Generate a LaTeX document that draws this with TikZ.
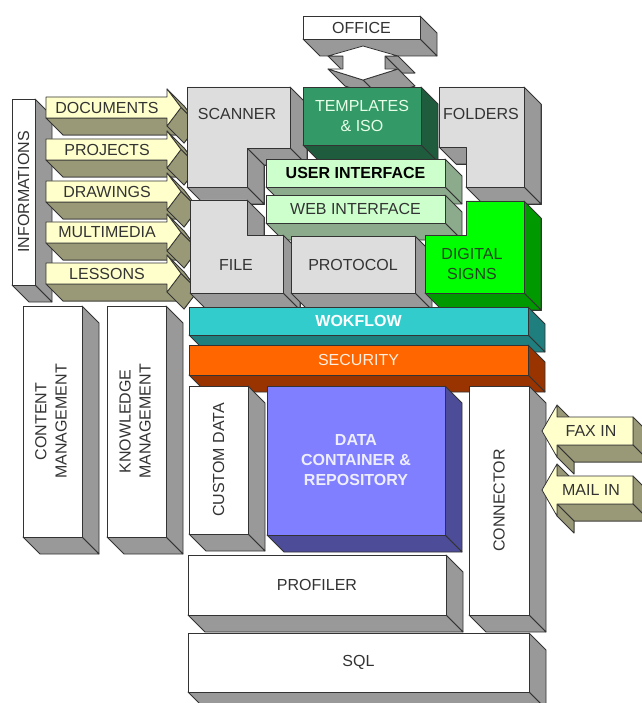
\documentclass[tikz,border=0pt]{standalone}
\usepackage{fontspec}
\usepackage{graphicx}
\setmainfont{Liberation Sans}
\definecolor{edgec}{HTML}{333333}
\definecolor{txt}{HTML}{333333}
\definecolor{lgray}{HTML}{DDDDDD}
\definecolor{sideg}{HTML}{999999}
\definecolor{olive}{HTML}{999977}
\definecolor{ylw}{HTML}{FFFFCC}
\definecolor{tgreen}{HTML}{339966}
\definecolor{tgreenD}{HTML}{1F5C3D}
\definecolor{tlight}{HTML}{E8FFE8}
\definecolor{uig}{HTML}{CCFFCC}
\definecolor{uigD}{HTML}{8CAA8C}
\definecolor{dsg}{HTML}{00FF00}
\definecolor{dsgD}{HTML}{009900}
\definecolor{dstxt}{HTML}{224422}
\definecolor{wf}{HTML}{33CCCC}
\definecolor{wfD}{HTML}{1F7F7F}
\definecolor{sec}{HTML}{FF6600}
\definecolor{secD}{HTML}{993300}
\definecolor{sectxt}{HTML}{FFEEE0}
\definecolor{dc}{HTML}{7F7FFF}
\definecolor{dcD}{HTML}{4C4C99}
\definecolor{dctxt}{HTML}{EEEEFF}
\tikzset{
  edge/.style={draw=edgec, line width=0.8pt, line join=round},
  lbl/.style={font=\fontsize{16}{20}\selectfont, text=txt, align=center, inner sep=0pt, outer sep=0pt},
  lblb/.style={font=\fontsize{16}{20}\selectfont\bfseries},
}
\def\dd{17}
% extruded face of edge (#2,#3)-(#4,#5)
\newcommand\qf[5]{\filldraw[edge, fill=#1] (#2,#3) -- (#4,#5) -- ({#4+\dd},{#5+\dd}) -- ({#2+\dd},{#3+\dd}) -- cycle;}
% name, x1, y1, x2, y2, front, side, options, text
\newcommand\blockbox[9]{%
  \qf{#7}{#4}{#3}{#4}{#5}%
  \qf{#7}{#4}{#5}{#2}{#5}%
  \node[edge, fill=#6, lbl, minimum width={(#4-#2)*1pt}, minimum height={(#5-#3)*1pt}, #8] (#1) at ({(#2+#4)/2},{(#3+#5)/2}) {#9};}
% left-side arrows pointing right: name, top y, text
\newcommand\larrow[3]{%
  \filldraw[edge, fill=olive, shift={(\dd,\dd)}] (46,#2) -- (167,#2) -- (167,{#2-8}) -- (181,{#2+10.5}) -- (167,{#2+29}) -- (167,{#2+21}) -- (46,{#2+21}) -- cycle;
  \qf{olive}{46}{#2+21}{167}{#2+21}
  \qf{olive}{167}{#2-8}{181}{#2+10.5}
  \qf{olive}{181}{#2+10.5}{167}{#2+29}
  \filldraw[edge, fill=ylw] (46,#2) -- (167,#2) -- (167,{#2-8}) -- (181,{#2+10.5}) -- (167,{#2+29}) -- (167,{#2+21}) -- (46,{#2+21}) -- cycle;
  \node[lbl] (#1) at (107,{#2+10.5}) {#3};}
% right-side arrows pointing left: name, centre y, text
\newcommand\rarrow[3]{%
  \filldraw[edge, fill=olive, shift={(\dd,\dd)}] (542,#2) -- (557,{#2-26}) -- (557,{#2-14}) -- (633,{#2-14}) -- (633,{#2+14}) -- (557,{#2+14}) -- (557,{#2+26}) -- cycle;
  \qf{olive}{557}{#2-26}{557}{#2-14}
  \qf{olive}{633}{#2-14}{633}{#2+14}
  \qf{olive}{633}{#2+14}{557}{#2+14}
  \qf{olive}{557}{#2+14}{557}{#2+26}
  \filldraw[edge, fill=ylw] (542,#2) -- (557,{#2-26}) -- (557,{#2-14}) -- (633,{#2-14}) -- (633,{#2+14}) -- (557,{#2+14}) -- (557,{#2+26}) -- cycle;
  \node[lbl] (#1) at (591,#2) {#3};}

\begin{document}
\begin{tikzpicture}[x=1pt,y=-1pt]
\useasboundingbox (0,0) rectangle (641,703);

% OFFICE and double arrow
\blockbox{office}{303}{16}{420}{39}{white}{sideg}{}{OFFICE}
\filldraw[edge, fill=sideg, shift={(\dd,\dd)}] (363,46) -- (398,56) -- (385,56) -- (385,69) -- (398,69) -- (363,80) -- (328,69) -- (343,69) -- (343,56) -- (328,56) -- cycle;
\qf{sideg}{398}{56}{385}{56}
\qf{sideg}{385}{56}{385}{69}
\qf{sideg}{398}{69}{363}{80}
\qf{sideg}{363}{80}{328}{69}
\qf{sideg}{343}{56}{328}{56}
\filldraw[edge, fill=white] (363,46) -- (398,56) -- (385,56) -- (385,69) -- (398,69) -- (363,80) -- (328,69) -- (343,69) -- (343,56) -- (328,56) -- cycle;

% INFORMATIONS and input arrows
\blockbox{info}{12}{99}{35}{285}{white}{sideg}{}{\rotatebox{90}{INFORMATIONS}}
\larrow{docs}{97}{DOCUMENTS}
\larrow{projects}{139}{PROJECTS}
\larrow{drawings}{181}{DRAWINGS}
\larrow{multimedia}{222}{MULTIMEDIA}
\larrow{lessons}{263}{LESSONS}

% SCANNER (L shape)
\filldraw[edge, fill=sideg, shift={(\dd,\dd)}] (187,87) -- (290,87) -- (290,148) -- (247,148) -- (247,187) -- (187,187) -- cycle;
\qf{sideg}{290}{87}{290}{148}
\qf{sideg}{290}{148}{247}{148}
\qf{sideg}{247}{148}{247}{187}
\qf{sideg}{247}{187}{187}{187}
\filldraw[edge, fill=lgray] (187,87) -- (290,87) -- (290,148) -- (247,148) -- (247,187) -- (187,187) -- cycle;
\node[lbl] (scanner) at (237,114) {SCANNER};

% TEMPLATES & ISO
\blockbox{templ}{303}{87}{421}{145}{tgreen}{tgreenD}{text=tlight}{TEMPLATES\\\& ISO}

% FOLDERS (L shape)
\filldraw[edge, fill=sideg, shift={(\dd,\dd)}] (439,87) -- (524,87) -- (524,187) -- (466,187) -- (466,147) -- (439,147) -- cycle;
\qf{sideg}{524}{87}{524}{187}
\qf{sideg}{524}{187}{466}{187}
\qf{sideg}{466}{147}{439}{147}
\filldraw[edge, fill=lgray] (439,87) -- (524,87) -- (524,187) -- (466,187) -- (466,147) -- (439,147) -- cycle;
\node[lbl] (folders) at (481,114) {FOLDERS};

% USER / WEB INTERFACE
\blockbox{ui}{266}{159}{445}{187}{uig}{uigD}{lblb, text=black}{USER INTERFACE}
\blockbox{web}{266}{195}{445}{223}{uig}{uigD}{}{WEB INTERFACE}

% FILE (L shape)
\filldraw[edge, fill=sideg, shift={(\dd,\dd)}] (190,200) -- (247,200) -- (247,235) -- (283,235) -- (283,293) -- (190,293) -- cycle;
\qf{sideg}{247}{200}{247}{235}
\qf{sideg}{283}{235}{283}{293}
\qf{sideg}{283}{293}{190}{293}
\filldraw[edge, fill=lgray] (190,200) -- (247,200) -- (247,235) -- (283,235) -- (283,293) -- (190,293) -- cycle;
\node[lbl] (file) at (236,265) {FILE};

% PROTOCOL
\blockbox{protocol}{291}{236}{415}{293}{lgray}{sideg}{}{PROTOCOL}

% DIGITAL SIGNS (L shape)
\filldraw[edge, fill=dsgD, shift={(\dd,\dd)}] (466,201) -- (524,201) -- (524,293) -- (425,293) -- (425,235) -- (466,235) -- cycle;
\qf{dsgD}{524}{201}{524}{293}
\qf{dsgD}{524}{293}{425}{293}
\filldraw[edge, fill=dsg] (466,201) -- (524,201) -- (524,293) -- (425,293) -- (425,235) -- (466,235) -- cycle;
\node[lbl, text=dstxt] (signs) at (472,264) {DIGITAL\\SIGNS};

% WOKFLOW / SECURITY
\blockbox{workflow}{189}{307}{528}{335}{wf}{wfD}{lblb, text=white}{WOKFLOW}
\blockbox{security}{189}{345}{528}{375}{sec}{secD}{text=sectxt}{SECURITY}

% left management columns
\blockbox{content}{23}{306}{82}{537}{white}{sideg}{}{\rotatebox{90}{\begin{tabular}{@{}c@{}}CONTENT\\MANAGEMENT\end{tabular}}}
\blockbox{knowledge}{107}{306}{166}{537}{white}{sideg}{}{\rotatebox{90}{\begin{tabular}{@{}c@{}}KNOWLEDGE\\MANAGEMENT\end{tabular}}}

% data layer
\blockbox{custom}{189}{386}{248}{534}{white}{sideg}{}{\rotatebox{90}{CUSTOM DATA}}
\blockbox{container}{267}{386}{445}{535}{dc}{dcD}{lblb, text=dctxt}{DATA\\CONTAINER \&\\REPOSITORY}
\blockbox{connector}{469}{386}{529}{615}{white}{sideg}{}{\rotatebox{90}{CONNECTOR}}
\rarrow{fax}{431}{FAX IN}
\rarrow{mail}{490}{MAIL IN}

% bottom layers
\blockbox{profiler}{188}{555}{446}{615}{white}{sideg}{}{PROFILER}
\blockbox{sql}{188}{633}{529}{692}{white}{sideg}{}{SQL}
\end{tikzpicture}
\end{document}
